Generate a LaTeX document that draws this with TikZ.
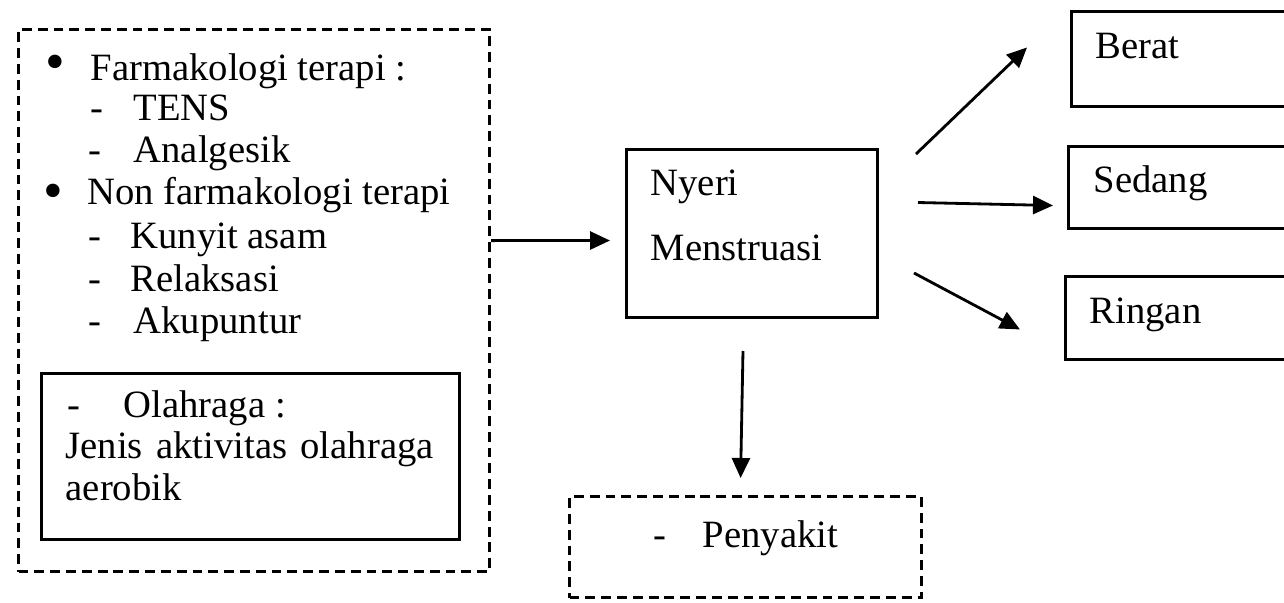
\documentclass[tikz,border=0pt]{standalone}
\usepackage{fontspec}
\setmainfont{Liberation Serif}
\usetikzlibrary{arrows.meta}

\begin{document}
\begin{tikzpicture}[
  box/.style={draw,line width=0.85pt,inner sep=0pt,anchor=north west},
  dashbox/.style={box,dashed,dash pattern=on 2.8pt off 1.7pt,line width=0.9pt},
  txt/.style={font=\fontsize{11}{13}\selectfont,inner sep=0pt,anchor=base west},
  dot/.style={font=\fontsize{16}{18}\selectfont,inner sep=0pt},
  arr/.style={-{Triangle[length=2mm,width=1.8mm]},line width=0.8pt}
]
\useasboundingbox (0,0) rectangle (12.84,-6.02);
\clip (0,0) rectangle (12.84,-6.02);

% ---- LEFT: therapies ----
\node[dashbox,minimum width=4.71cm,minimum height=5.42cm] (terapi) at (0.17,-0.28) {};

\node[dot] (b1) at (0.55,-0.68) {\textbullet};
\node[txt] (farm) at (0.90,-0.80) {Farmakologi terapi :};
\node[txt] (d1) at (0.90,-1.20) {-};
\node[txt] (tens) at (1.33,-1.20) {TENS};
\node[txt] (d2) at (0.88,-1.62) {-};
\node[txt] (analg) at (1.33,-1.62) {Analgesik};

\node[dot] (b2) at (0.53,-1.97) {\textbullet};
\node[txt] (nonfarm) at (0.87,-2.04) {Non farmakologi terapi};
\node[txt] (d3) at (0.88,-2.48) {-};
\node[txt] (kunyit) at (1.30,-2.48) {Kunyit asam};
\node[txt] (d4) at (0.88,-2.91) {-};
\node[txt] (relaks) at (1.30,-2.91) {Relaksasi};
\node[txt] (d5) at (0.88,-3.33) {-};
\node[txt] (akup) at (1.33,-3.33) {Akupuntur};

% Olahraga box
\node[box,minimum width=4.18cm,minimum height=1.66cm] (olahraga) at (0.40,-3.72) {};
\node[txt] (d6) at (0.67,-4.17) {-};
\node[txt] (olah) at (1.23,-4.17) {Olahraga :};
\node[txt] (jenis) at (0.65,-4.58) {\makebox[3.68cm][s]{Jenis aktivitas olahraga}};
\node[txt] (aerob) at (0.65,-5.00) {aerobik};

% ---- MIDDLE: Nyeri Menstruasi ----
\node[box,minimum width=2.51cm,minimum height=1.68cm] (nyeri) at (6.25,-1.48) {};
\node[txt] at (6.50,-1.95) {Nyeri};
\node[txt] at (6.50,-2.60) {Menstruasi};

% Penyakit
\node[dashbox,minimum width=3.52cm,minimum height=1.01cm] (penyakit) at (5.68,-4.95) {};
\node[txt] at (6.53,-5.47) {-};
\node[txt] at (7.02,-5.47) {Penyakit};

% ---- RIGHT: levels ----
\node[box,minimum width=2.6cm,minimum height=0.95cm] (berat) at (10.70,-0.10) {};
\node[txt] at (10.95,-0.58) {Berat};
\node[box,minimum width=2.6cm,minimum height=0.82cm] (sedang) at (10.67,-1.45) {};
\node[txt] at (10.93,-1.92) {Sedang};
\node[box,minimum width=2.6cm,minimum height=0.83cm] (ringan) at (10.64,-2.75) {};
\node[txt] at (10.89,-3.23) {Ringan};

% Arrows
\draw[arr] ([yshift=0.60cm]terapi.east) -- ([xshift=-0.15cm,yshift=-0.07cm]nyeri.west);
\draw[arr] ([xshift=-0.09cm,yshift=-0.32cm]nyeri.south) -- ([xshift=-0.05cm,yshift=0.17cm]penyakit.north);
\draw[arr] ([xshift=0.37cm,yshift=-0.06cm]nyeri.north east) -- ([xshift=-0.43cm,yshift=0.115cm]berat.west);
\draw[arr] ([xshift=0.39cm,yshift=0.31cm]nyeri.east) -- ([xshift=-0.14cm,yshift=-0.18cm]sedang.west);
\draw[arr] ([xshift=0.35cm,yshift=0.46cm]nyeri.south east) -- ([xshift=-0.44cm,yshift=-0.115cm]ringan.west);
\end{tikzpicture}
\end{document}
